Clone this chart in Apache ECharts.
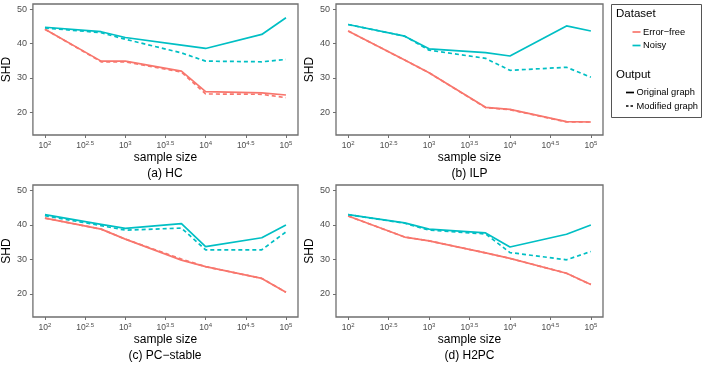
<!DOCTYPE html>
<html>
<head>
<meta charset="utf-8">
<script src="https://cdn.jsdelivr.net/npm/echarts@6/dist/echarts.min.js"></script>
<style>
  html, body { margin: 0; padding: 0; background: #fff; }
  #chart { width: 706px; height: 367px; }
</style>
</head>
<body>
<div id="chart"></div>
<script>
const sampleSizes = [100, 500, 1000, 5000, 10000, 50000, 100000];
const xTickExps = [2, 2.5, 3, 3.5, 4, 4.5, 5];
const yTicks = [20, 30, 40, 50];

// HC
const hcFreeOrig = [44.2, 34.9, 34.9, 32.0, 26.0, 25.6, 25.0];
const hcFreeMod = [44.2, 34.7, 34.7, 31.7, 25.3, 25.2, 24.2];
const hcNoisyOrig = [44.8, 43.5, 41.8, 39.6, 38.6, 42.7, 47.6];
const hcNoisyMod = [44.6, 43.2, 41.3, 37.3, 34.9, 34.7, 35.4];
// ILP
const ilpFreeOrig = [43.7, 35.2, 31.5, 21.4, 20.8, 17.2, 17.1];
const ilpFreeMod = [43.7, 35.2, 31.5, 21.3, 20.7, 17.1, 17.1];
const ilpNoisyOrig = [45.6, 42.2, 38.5, 37.4, 36.4, 45.2, 43.7];
const ilpNoisyMod = [45.6, 42.2, 38.1, 35.7, 32.2, 33.1, 30.2];
// PC-stable
const pcFreeOrig = [42.0, 38.8, 35.9, 29.8, 27.9, 24.5, 20.5];
const pcFreeMod = [42.0, 38.8, 35.9, 30.1, 27.9, 24.5, 20.5];
const pcNoisyOrig = [43.0, 40.2, 39.0, 40.4, 33.7, 36.3, 40.0];
const pcNoisyMod = [42.7, 39.8, 38.5, 39.1, 32.8, 32.8, 38.0];
// H2PC
const h2FreeOrig = [42.6, 36.5, 35.4, 31.9, 30.3, 26.0, 22.7];
const h2FreeMod = [42.6, 36.5, 35.4, 31.9, 30.3, 26.0, 22.7];
const h2NoisyOrig = [43.0, 40.6, 38.8, 37.7, 33.6, 37.3, 40.0];
const h2NoisyMod = [43.0, 40.5, 38.5, 37.4, 32.0, 29.9, 32.3];

const panels = [
  { caption: '(a) HC', grid: [32, 4, 266, 131], lines: [hcFreeOrig, hcFreeMod, hcNoisyOrig, hcNoisyMod] },
  { caption: '(b) ILP', grid: [336, 4, 267, 131], lines: [ilpFreeOrig, ilpFreeMod, ilpNoisyOrig, ilpNoisyMod] },
  { caption: '(c) PC\u2212stable', grid: [32, 185, 266, 132], lines: [pcFreeOrig, pcFreeMod, pcNoisyOrig, pcNoisyMod] },
  { caption: '(d) H2PC', grid: [336, 185, 267, 132], lines: [h2FreeOrig, h2FreeMod, h2NoisyOrig, h2NoisyMod] }
];

const RED = '#F8766D';
const CYAN = '#00BFC4';
const DASH = [4, 3];
const FONT = '"Liberation Sans", Arial, sans-serif';
const lineLook = [
  { color: RED, type: 'solid', tag: 'Error-free, Original graph' },
  { color: RED, type: DASH, tag: 'Error-free, Modified graph' },
  { color: CYAN, type: 'solid', tag: 'Noisy, Original graph' },
  { color: CYAN, type: DASH, tag: 'Noisy, Modified graph' }
];

const grids = [], xAxes = [], yAxes = [], series = [], graphics = [];

panels.forEach((p, i) => {
  const [l, t, w, h] = p.grid;
  grids.push({ left: l, top: t, width: w, height: h, show: true, borderColor: '#6f6f6f', borderWidth: 1.3, backgroundColor: '#fff' });
  xAxes.push({
    gridIndex: i, type: 'value', min: 1.85, max: 5.15,
    name: 'sample size', nameLocation: 'middle', nameGap: 16,
    nameTextStyle: { fontSize: 12, color: '#000', fontFamily: FONT },
    axisLine: { show: false },
    splitLine: { show: false },
    axisTick: { show: true, length: 3, customValues: xTickExps, lineStyle: { color: '#6f6f6f' } },
    axisLabel: {
      customValues: xTickExps, margin: 5,
      formatter: v => '{b|10}{s|' + v + '}',
      rich: {
        b: { fontSize: 8.5, color: '#4d4d4d', fontFamily: FONT },
        s: { fontSize: 6, color: '#4d4d4d', fontFamily: FONT, padding: [0, 0, 6, 0] }
      }
    }
  });
  yAxes.push({
    gridIndex: i, type: 'value', min: 13.3, max: 51.6,
    name: 'SHD', nameLocation: 'middle', nameGap: 13,
    nameTextStyle: { fontSize: 12, color: '#000', fontFamily: FONT },
    axisLine: { show: false },
    splitLine: { show: false },
    axisTick: { show: true, length: 3, customValues: yTicks, lineStyle: { color: '#6f6f6f' } },
    axisLabel: { customValues: yTicks, margin: 6, fontSize: 9, color: '#4d4d4d', fontFamily: FONT }
  });
  p.lines.forEach((arr, k) => {
    series.push({
      name: p.caption + ' ' + lineLook[k].tag,
      type: 'line', xAxisIndex: i, yAxisIndex: i,
      symbol: 'none', silent: true, z: 3 + k,
      data: sampleSizes.map((n, j) => [Math.log10(n), arr[j]]),
      lineStyle: { color: lineLook[k].color, width: 1.7, type: lineLook[k].type }
    });
  });
  graphics.push({
    type: 'text', x: l + w / 2, y: t + h + 39,
    style: { text: p.caption, align: 'center', verticalAlign: 'middle', fontSize: 12, fill: '#000', fontFamily: FONT }
  });
});

// legend box drawn by hand (ggplot-style guide with two titled groups)
const legendGroups = [
  { title: 'Dataset', titleY: 14, keyX: 632.5, items: [
    { label: 'Error\u2212free', y: 32, color: RED, type: 'solid' },
    { label: 'Noisy', y: 45.5, color: CYAN, type: 'solid' }
  ] },
  { title: 'Output', titleY: 75, keyX: 626, items: [
    { label: 'Original graph', y: 92.5, color: '#000', type: 'solid' },
    { label: 'Modified graph', y: 106, color: '#000', type: [2.5, 2] }
  ] }
];
graphics.push({ type: 'rect', shape: { x: 611.5, y: 4.5, width: 90, height: 113 }, style: { fill: '#fff', stroke: '#555', lineWidth: 1 } });
legendGroups.forEach(g => {
  graphics.push({ type: 'text', x: 616, y: g.titleY, style: { text: g.title, verticalAlign: 'middle', fontSize: 11.5, fill: '#000', fontFamily: FONT } });
  g.items.forEach(it => {
    graphics.push({ type: 'line', shape: { x1: g.keyX, y1: it.y, x2: g.keyX + 8, y2: it.y }, style: { stroke: it.color, lineWidth: 1.7, lineDash: it.type === 'solid' ? null : it.type } });
    graphics.push({ type: 'text', x: g.keyX + 10.5, y: it.y, style: { text: it.label, verticalAlign: 'middle', fontSize: 9.3, fill: '#000', fontFamily: FONT } });
  });
});

const chart = echarts.init(document.getElementById('chart'));
chart.setOption({
  animation: false,
  grid: grids,
  xAxis: xAxes,
  yAxis: yAxes,
  series: series,
  graphic: graphics
});
</script>
</body>
</html>
